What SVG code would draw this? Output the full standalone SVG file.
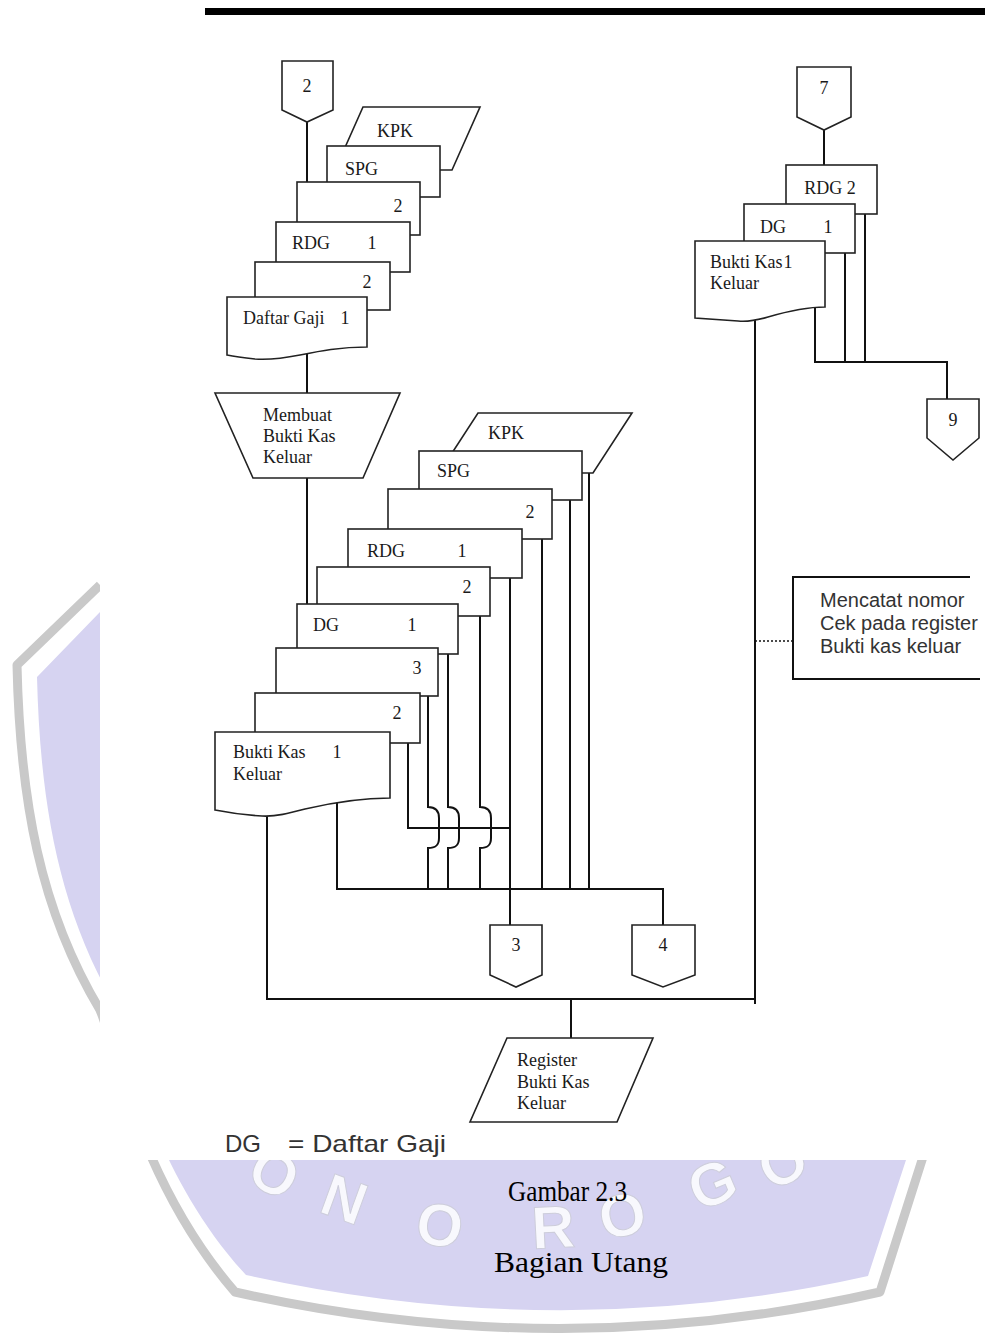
<svg xmlns="http://www.w3.org/2000/svg" width="985" height="1333" viewBox="0 0 985 1333">
<style>
.doc{fill:#fff;stroke:#222;stroke-width:1.6}
.ln{fill:none;stroke:#111;stroke-width:2}
.t{font-family:"Liberation Serif","Times New Roman",serif;font-size:18px;fill:#1a1a1a}
.c{text-anchor:middle}
.s{font-family:"Liberation Sans",Arial,sans-serif;fill:#333}
.wm{font-family:"Liberation Sans",Arial,sans-serif;font-weight:bold;font-size:60px;fill:#f8f8fd;stroke:#cdcddb;stroke-width:1;text-anchor:middle}
</style>
<rect x="0" y="0" width="985" height="1333" fill="#fff"/>
<g id="watermark">
  <path d="M100,612 L37,677 C40,800 58,905 112,1000 C128,1040 150,1170 246,1275 Q560,1345 868,1276 L906,1160 L960,1000 L960,600 L100,600 Z" fill="#d6d3f1"/>
  <path d="M100,585 L17,665 C20,800 40,910 100,1010 C114,1040 138,1180 235,1292 Q560,1365 880,1292 L922,1160 L980,990" fill="none" stroke="#c9c9c9" stroke-width="9" stroke-linejoin="round"/>
  <text class="wm" transform="translate(275,1172) rotate(28)" x="0" y="22">O</text>
  <text class="wm" transform="translate(345,1198) rotate(20)" x="0" y="22">N</text>
  <text class="wm" transform="translate(440,1224) rotate(9)" x="0" y="22">O</text>
  <text class="wm" transform="translate(553,1226) rotate(-3)" x="0" y="22">R</text>
  <text class="wm" transform="translate(622,1214) rotate(-13)" x="0" y="22">O</text>
  <text class="wm" transform="translate(712,1183) rotate(-23)" x="0" y="22">G</text>
  <text class="wm" transform="translate(782,1162) rotate(-30)" x="0" y="22">O</text>
</g>
<rect x="100" y="0" width="885" height="1160" fill="#fff"/>
<rect x="205" y="8" width="780" height="7" fill="#000"/>

<g id="connectors">
  <path class="ln" d="M307,122 V182"/>
  <path class="ln" d="M307,354 V393"/>
  <path class="ln" d="M307,478 V604"/>
  <path class="ln" d="M824,130 V165"/>
  <path class="ln" d="M815,308 V362 H947 V399"/>
  <path class="ln" d="M845,253 V362"/>
  <path class="ln" d="M865,214 V362"/>
  <path class="ln" d="M755,320 V1004"/>
  <path class="ln" d="M267,816 V999 H755"/>
  <path class="ln" d="M571,999 V1038"/>
  <path class="ln" d="M337,802 V889 H663 V925"/>
  <path class="ln" d="M589,473 V889"/>
  <path class="ln" d="M570,500 V889"/>
  <path class="ln" d="M542,539 V889"/>
  <path class="ln" d="M510,578 V925"/>
  <path class="ln" d="M408,743 V828 H510"/>
  <path class="ln" d="M480,616 V807 C488,807 491,811 491,818 V838 C491,845 488,848 480,848 V889"/>
  <path class="ln" d="M448,654 V807 C456,807 459,811 459,818 V838 C459,845 456,848 448,848 V889"/>
  <path class="ln" d="M428,696 V807 C436,807 439,811 439,818 V838 C439,845 436,848 428,848 V889"/>
  <path d="M755,641 H793" fill="none" stroke="#111" stroke-width="1.5" stroke-dasharray="2,2"/>
</g>

<g id="off-page-2">
  <polygon class="doc" points="282,61 333,61 333,110 307,122 282,110"/>
  <text class="t c" x="307" y="92">2</text>
</g>
<g id="kpk-top">
  <polygon class="doc" points="363,107 480,107 452,170 335,170"/>
  <text class="t c" x="395" y="137">KPK</text>
</g>
<g id="spg-top">
  <rect class="doc" x="327" y="146" width="113" height="51"/>
  <text class="t" x="345" y="175">SPG</text>
</g>
<g id="copy2-top-a">
  <rect class="doc" x="297" y="182" width="123" height="53"/>
  <text class="t c" x="398" y="212">2</text>
</g>
<g id="rdg-top">
  <rect class="doc" x="276" y="222" width="134" height="50"/>
  <text class="t" x="292" y="249">RDG</text>
  <text class="t c" x="372" y="249">1</text>
</g>
<g id="copy2-top-b">
  <rect class="doc" x="255" y="262" width="135" height="48"/>
  <text class="t c" x="367" y="288">2</text>
</g>
<g id="daftar-gaji">
  <path class="doc" d="M227,297 H367 V347 C340,347 320,351 300,355 C285,358 270,360 255,359 C245,358 236,357 227,355 Z"/>
  <text class="t" x="243" y="324">Daftar Gaji</text>
  <text class="t c" x="345" y="324">1</text>
</g>
<g id="membuat-bkk">
  <polygon class="doc" points="215,393 400,393 363,478 253,478"/>
  <text class="t" x="263" y="421">Membuat</text>
  <text class="t" x="263" y="442">Bukti Kas</text>
  <text class="t" x="263" y="463">Keluar</text>
</g>

<g id="kpk-mid">
  <polygon class="doc" points="478,413 632,413 593,473 439,473"/>
  <text class="t c" x="506" y="439">KPK</text>
</g>
<g id="spg-mid">
  <rect class="doc" x="419" y="451" width="163" height="49"/>
  <text class="t" x="437" y="477">SPG</text>
</g>
<g id="copy2-mid-a">
  <rect class="doc" x="388" y="489" width="164" height="50"/>
  <text class="t c" x="530" y="518">2</text>
</g>
<g id="rdg-mid">
  <rect class="doc" x="348" y="529" width="174" height="49"/>
  <text class="t" x="367" y="557">RDG</text>
  <text class="t c" x="462" y="557">1</text>
</g>
<g id="copy2-mid-b">
  <rect class="doc" x="317" y="567" width="173" height="49"/>
  <text class="t c" x="467" y="593">2</text>
</g>
<g id="dg-mid">
  <rect class="doc" x="297" y="604" width="161" height="50"/>
  <text class="t" x="313" y="631">DG</text>
  <text class="t c" x="412" y="631">1</text>
</g>
<g id="copy3-mid">
  <rect class="doc" x="276" y="648" width="162" height="48"/>
  <text class="t c" x="417" y="674">3</text>
</g>
<g id="copy2-mid-c">
  <rect class="doc" x="255" y="693" width="165" height="50"/>
  <text class="t c" x="397" y="719">2</text>
</g>
<g id="bukti-kas-mid">
  <path class="doc" d="M215,732 H390 V798 C362,798 335,802 305,809 C290,813 275,817 262,816 C245,815 230,813 215,810 Z"/>
  <text class="t" x="233" y="758">Bukti Kas</text>
  <text class="t c" x="337" y="758">1</text>
  <text class="t" x="233" y="780">Keluar</text>
</g>

<g id="off-page-7">
  <polygon class="doc" points="797,67 851,67 851,117 824,130 797,117"/>
  <text class="t c" x="824" y="94">7</text>
</g>
<g id="rdg2-right">
  <rect class="doc" x="786" y="165" width="91" height="49"/>
  <text class="t c" x="830" y="194">RDG 2</text>
</g>
<g id="dg1-right">
  <rect class="doc" x="744" y="204" width="111" height="49"/>
  <text class="t" x="760" y="233">DG</text>
  <text class="t c" x="828" y="233">1</text>
</g>
<g id="bukti-kas-right">
  <path class="doc" d="M695,241 H825 V307 C805,307 785,312 768,317 C758,320 748,322 738,321 C722,320 708,319 695,318 Z"/>
  <text class="t" x="710" y="268">Bukti Kas</text>
  <text class="t c" x="788" y="268">1</text>
  <text class="t" x="710" y="289">Keluar</text>
</g>
<g id="off-page-9">
  <polygon class="doc" points="927,399 979,399 979,438 953,460 927,438"/>
  <text class="t c" x="953" y="426">9</text>
</g>
<g id="off-page-3">
  <polygon class="doc" points="490,925 542,925 542,975 516,987 490,975"/>
  <text class="t c" x="516" y="951">3</text>
</g>
<g id="off-page-4">
  <polygon class="doc" points="632,925 695,925 695,975 663,987 632,975"/>
  <text class="t c" x="663" y="951">4</text>
</g>
<g id="register-bkk">
  <polygon class="doc" points="507,1038 653,1038 617,1122 470,1122"/>
  <text class="t" x="517" y="1066">Register</text>
  <text class="t" x="517" y="1088">Bukti Kas</text>
  <text class="t" x="517" y="1109">Keluar</text>
</g>
<g id="annotation">
  <path d="M970,577 H793 V679 H980" fill="none" stroke="#111" stroke-width="2"/>
  <text class="s" font-size="20" x="820" y="607">Mencatat nomor</text>
  <text class="s" font-size="20" x="820" y="630">Cek pada register</text>
  <text class="s" font-size="20" x="820" y="653">Bukti kas keluar</text>
</g>
<g id="legend">
  <text class="s" font-size="24" x="225" y="1152">DG</text>
  <text class="s" font-size="24" x="288" y="1152" textLength="158" lengthAdjust="spacingAndGlyphs">= Daftar Gaji</text>
</g>
<g id="caption">
  <text font-family="Liberation Serif, Times New Roman, serif" font-size="29" fill="#000" x="508" y="1201" textLength="119" lengthAdjust="spacingAndGlyphs">Gambar 2.3</text>
  <text font-family="Liberation Serif, Times New Roman, serif" font-size="30" fill="#000" x="494" y="1272" textLength="174" lengthAdjust="spacingAndGlyphs">Bagian Utang</text>
</g>
</svg>
